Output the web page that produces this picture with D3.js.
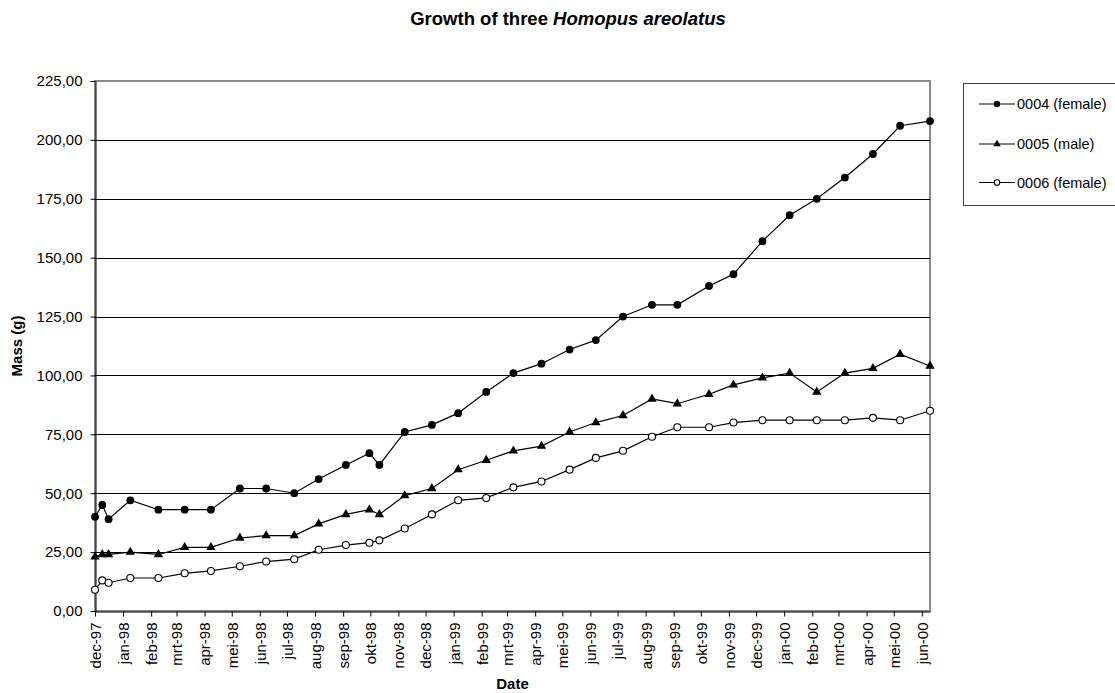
<!DOCTYPE html>
<html>
<head>
<meta charset="utf-8">
<script src="https://cdn.jsdelivr.net/npm/d3@7"></script>
<style>
  html, body { margin: 0; padding: 0; background: #fff; }
  svg { display: block; font-family: "Liberation Sans", Arial, sans-serif; }
</style>
</head>
<body>
<svg id="chart" width="1115" height="693"></svg>
<script>
// Weighing dates (one weighing per visit)
const dates = [
  "1997-12-01", "1997-12-09", "1997-12-16", "1998-01-09", "1998-02-09", "1998-03-10",
  "1998-04-08", "1998-05-10", "1998-06-08", "1998-07-09", "1998-08-05", "1998-09-04",
  "1998-09-30", "1998-10-11", "1998-11-08", "1998-12-08", "1999-01-06", "1999-02-06",
  "1999-03-08", "1999-04-08", "1999-05-09", "1999-06-07", "1999-07-07", "1999-08-08",
  "1999-09-05", "1999-10-10", "1999-11-06", "1999-12-08", "2000-01-07", "2000-02-06",
  "2000-03-08", "2000-04-08", "2000-05-08", "2000-06-10"
];

// Mass in grams for each animal
const mass0004 = [40, 45, 39, 47, 43, 43, 43, 52, 52, 50, 56, 62, 67, 62, 76, 79, 84, 93,
  101, 105, 111, 115, 125, 130, 130, 138, 143, 157, 168, 175, 184, 194, 206, 208];
const mass0005 = [23, 24, 24, 25, 24, 27, 27, 31, 32, 32, 37, 41, 43, 41, 49, 52, 60, 64,
  68, 70, 76, 80, 83, 90, 88, 92, 96, 99, 101, 93, 101, 103, 109, 104];
const mass0006 = [9, 13, 12, 14, 14, 16, 17, 19, 21, 22, 26, 28, 29, 30, 35, 41, 47, 48,
  52.5, 55, 60, 65, 68, 74, 78, 78, 80, 81, 81, 81, 81, 82, 81, 85];

const seriesNames = ["0004 (female)", "0005 (male)", "0006 (female)"];
const seriesMarkers = ["dot", "triangle", "ring"];

const yTicks = [0, 25, 50, 75, 100, 125, 150, 175, 200, 225];
const xTickLabels = [
  "dec-97", "jan-98", "feb-98", "mrt-98", "apr-98", "mei-98", "jun-98", "jul-98", "aug-98",
  "sep-98", "okt-98", "nov-98", "dec-98", "jan-99", "feb-99", "mrt-99", "apr-99", "mei-99",
  "jun-99", "jul-99", "aug-99", "sep-99", "okt-99", "nov-99", "dec-99", "jan-00", "feb-00",
  "mrt-00", "apr-00", "mei-00", "jun-00"
];

// ---- layout ----
const plot = { left: 95, right: 930, top: 81, bottom: 611 };
const svg = d3.select("#chart");

const parse = d3.utcParse("%Y-%m-%d");
const when = dates.map(parse);

const x = d3.scaleUtc()
  .domain([when[0], when[when.length - 1]])
  .range([plot.left, plot.right]);
const y = d3.scaleLinear()
  .domain([0, 225])
  .range([plot.bottom, plot.top]);

const nl = d3.formatLocale({ decimal: ",", thousands: ".", grouping: [3], currency: ["€", ""] });
const fmt = nl.format(".2f");

// Plot frame (grey border, top and right visible)
svg.append("rect")
  .attr("x", plot.left).attr("y", plot.top)
  .attr("width", plot.right - plot.left).attr("height", plot.bottom - plot.top)
  .attr("fill", "none").attr("stroke", "#8a8a8a").attr("stroke-width", 2);

// Horizontal gridlines
svg.append("g")
  .selectAll("line")
  .data(yTicks.filter(v => v > 0 && v < 225))
  .join("line")
  .attr("x1", plot.left).attr("x2", plot.right)
  .attr("y1", d => Math.round(y(d)) + 0.5).attr("y2", d => Math.round(y(d)) + 0.5)
  .attr("stroke", "#000").attr("stroke-width", 1);

// Y axis
const yAxis = svg.append("g")
  .attr("transform", `translate(${plot.left + 0.5},0)`)
  .call(d3.axisLeft(y).tickValues(yTicks).tickFormat(fmt).tickSizeOuter(0).tickSizeInner(5).tickPadding(8));
yAxis.select(".domain").attr("stroke", "#000");
yAxis.selectAll(".tick line").attr("stroke", "#000");
yAxis.selectAll("text").attr("font-size", 15).attr("fill", "#000")
  .attr("font-family", "Liberation Sans, Arial, sans-serif");

// X axis (monthly ticks)
const months = d3.utcMonth.range(when[0], when[when.length - 1]);
const xAxis = svg.append("g")
  .attr("transform", `translate(0,${plot.bottom + 0.5})`)
  .call(d3.axisBottom(x).tickValues(months)
    .tickFormat((d, i) => xTickLabels[i]).tickSizeOuter(0).tickSizeInner(5));
xAxis.select(".domain").attr("stroke", "#000");
xAxis.selectAll(".tick line").attr("stroke", "#000");
xAxis.selectAll("text")
  .attr("font-size", 15).attr("fill", "#000")
  .attr("font-family", "Liberation Sans, Arial, sans-serif")
  .attr("text-anchor", "end")
  .attr("transform", "rotate(-90)")
  .attr("x", -11).attr("y", 0).attr("dy", "0.36em");

// Series lines and markers
const series = [mass0004, mass0005, mass0006];
const line = d3.line().x((d, i) => x(when[i])).y(d => y(d));

function drawMarker(g, kind, cx, cy, big) {
  if (kind === "dot") {
    g.append("circle").attr("cx", cx).attr("cy", cy).attr("r", big ? 3.9 : 3.2)
      .attr("fill", "#000");
  } else if (kind === "ring") {
    g.append("circle").attr("cx", cx).attr("cy", cy).attr("r", big ? 3.5 : 2.8)
      .attr("fill", "#fff").attr("stroke", "#000").attr("stroke-width", 1.1);
  } else {
    g.append("path")
      .attr("transform", `translate(${cx},${cy})`)
      .attr("d", d3.symbol(d3.symbolTriangle, big ? 38 : 24)())
      .attr("fill", "#000");
  }
}

series.forEach((vals, s) => {
  const g = svg.append("g");
  g.append("path").datum(vals)
    .attr("d", line)
    .attr("fill", "none").attr("stroke", "#000").attr("stroke-width", 1.2);
  vals.forEach((v, i) => drawMarker(g, seriesMarkers[s], x(when[i]), y(v), true));
});

// Titles
const title = svg.append("text")
  .attr("x", 568).attr("y", 25)
  .attr("text-anchor", "middle")
  .attr("font-size", 18.5).attr("font-weight", "bold");
title.append("tspan").text("Growth of three ");
title.append("tspan").attr("font-style", "italic").text("Homopus areolatus");

svg.append("text")
  .attr("x", (plot.left + plot.right) / 2).attr("y", 689)
  .attr("text-anchor", "middle")
  .attr("font-size", 15).attr("font-weight", "bold")
  .text("Date");

svg.append("text")
  .attr("transform", `translate(22,${(plot.top + plot.bottom) / 2}) rotate(-90)`)
  .attr("text-anchor", "middle")
  .attr("font-size", 15).attr("font-weight", "bold")
  .text("Mass (g)");

// Legend
const legend = svg.append("g");
legend.append("rect")
  .attr("x", 963.5).attr("y", 83.5).attr("width", 170).attr("height", 122)
  .attr("fill", "#fff").attr("stroke", "#404040").attr("stroke-width", 1);
const legendY = [104, 144, 182.5];
seriesNames.forEach((name, s) => {
  const ly = legendY[s];
  legend.append("line")
    .attr("x1", 979).attr("x2", 1015).attr("y1", ly).attr("y2", ly)
    .attr("stroke", "#000").attr("stroke-width", 1.2);
  drawMarker(legend, seriesMarkers[s], 997, ly, false);
  legend.append("text")
    .attr("x", 1017).attr("y", ly).attr("dy", "0.36em")
    .attr("font-size", 14.5)
    .text(name);
});
</script>
</body>
</html>
